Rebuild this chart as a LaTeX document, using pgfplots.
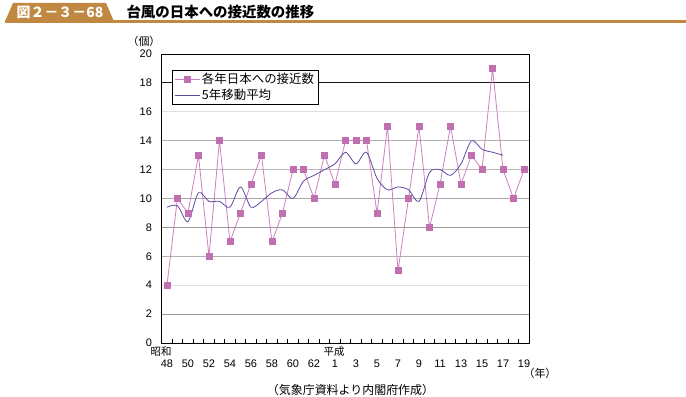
\documentclass[border=0pt]{standalone}
\usepackage{fontspec}
\setmainfont{Liberation Sans}
\newfontfamily\jp{Noto Sans CJK JP}
\usepackage{pgfplots}
\pgfplotsset{compat=1.18}
\definecolor{mk}{HTML}{C070B0}
\definecolor{mkl}{HTML}{CC80BE}
\definecolor{ma}{HTML}{5C4CA0}
\definecolor{ban}{HTML}{C08840}
\begin{document}
\begin{tikzpicture}
\useasboundingbox (0bp,0bp) rectangle (686bp,397bp);
% header
\fill[ban] (5bp,375.5bp) -- (13bp,394bp) -- (106bp,394bp) -- (114bp,375.5bp) -- cycle;
\fill[ban] (5bp,374.3bp) rectangle (686bp,377bp);
\node[text=white, font=\jp\bfseries\fontsize{14}{14}\selectfont] at (60bp,385bp) {図２－３－68};
\node[anchor=west, font=\jp\bfseries\fontsize{14.5}{14.5}\selectfont] at (123bp,385.5bp) {台風の日本への接近数の推移};
\begin{axis}[
  at={(161.7bp,54bp)}, anchor=south west, scale only axis,
  width=367.6bp, height=289bp,
  xmin=1972.5, xmax=2007.5, ymin=0, ymax=20,
  ytick={0,2,...,20},
  xtick={1973,1975,...,2007},
  xticklabels={48,50,52,54,56,58,60,62,1,3,5,7,9,11,13,15,17,19},
  minor xtick={1972.5,1973.5,...,2007.5},
  major tick length=0pt, minor tick length=3.5bp, tick align=inside,
  xtick pos=bottom, ytick pos=left,
  minor tick style={black, line width=0.7bp},
  axis line style={line width=0.9bp, black},
  tick label style={font=\fontsize{11}{11}\selectfont},
  xticklabel style={yshift=-13bp},
  yticklabel style={xshift=-6.3bp},
  /pgf/number format/assume math mode=true,
  legend style={at={(0.028,0.9446)}, anchor=north west, draw=black,
    font=\jp\fontsize{12.5}{12.5}\selectfont, cells={anchor=west},
    inner xsep=2bp, inner ysep=1.2bp, row sep=0bp},
  legend image code/.code={\draw[mark repeat=2,mark phase=2,#1] plot coordinates {(0bp,0bp) (12.5bp,0bp) (25bp,0bp)};},
]
% grid lines
\draw[gray!80, line width=0.8bp] (axis cs:1972.5,2) -- (axis cs:2007.5,2);
\draw[gray!25, line width=0.8bp] (axis cs:1972.5,4) -- (axis cs:2007.5,4);
\draw[gray!60, line width=0.8bp] (axis cs:1972.5,6) -- (axis cs:2007.5,6);
\draw[gray!80, line width=0.8bp] (axis cs:1972.5,8) -- (axis cs:2007.5,8);
\draw[gray!70, line width=0.8bp] (axis cs:1972.5,10) -- (axis cs:2007.5,10);
\draw[gray!55, line width=0.8bp] (axis cs:1972.5,12) -- (axis cs:2007.5,12);
\draw[gray!60, line width=0.8bp] (axis cs:1972.5,14) -- (axis cs:2007.5,14);
\draw[gray!25, line width=0.8bp] (axis cs:1972.5,16) -- (axis cs:2007.5,16);
\draw[black!90, line width=0.8bp] (axis cs:1972.5,18) -- (axis cs:2007.5,18);
\addplot[mkl, line width=0.8bp, mark=square*, mark size=3bp, mark options={fill=mk, draw=mk, solid}] coordinates {
(1973,4) (1974,10) (1975,9) (1976,13) (1977,6) (1978,14) (1979,7) (1980,9)
(1981,11) (1982,13) (1983,7) (1984,9) (1985,12) (1986,12) (1987,10) (1988,13)
(1989,11) (1990,14) (1991,14) (1992,14) (1993,9) (1994,15) (1995,5) (1996,10)
(1997,15) (1998,8) (1999,11) (2000,15) (2001,11) (2002,13) (2003,12) (2004,19)
(2005,12) (2006,10) (2007,12)};
\addlegendentry{各年日本への接近数}
\addplot[ma, line width=0.8bp, smooth, no markers] coordinates {
(1973,9.4) (1974,9.5) (1975,8.4) (1976,10.4) (1977,9.8) (1978,9.8) (1979,9.4) (1980,10.8)
(1981,9.4) (1982,9.8) (1983,10.4) (1984,10.6) (1985,10.0) (1986,11.2) (1987,11.6) (1988,12.0)
(1989,12.4) (1990,13.2) (1991,12.4) (1992,13.2) (1993,11.4) (1994,10.6) (1995,10.8) (1996,10.6)
(1997,9.8) (1998,11.8) (1999,12.0) (2000,11.6) (2001,12.4) (2002,14.0) (2003,13.4) (2004,13.2)
(2005,13.0)};
\addlegendentry{5年移動平均}
\end{axis}
\node[font=\jp\fontsize{11}{11}\selectfont] at (144bp,356bp) {（個）};
\node[font=\jp\fontsize{10.5}{10.5}\selectfont] at (161bp,45bp) {昭和};
\node[font=\jp\fontsize{10.5}{10.5}\selectfont] at (334bp,45bp) {平成};
\node[font=\jp\fontsize{11}{11}\selectfont] at (540bp,24bp) {（年）};
\node[font=\jp\fontsize{12}{12}\selectfont] at (350.5bp,7.5bp) {（気象庁資料より内閣府作成）};
\end{tikzpicture}
\end{document}
